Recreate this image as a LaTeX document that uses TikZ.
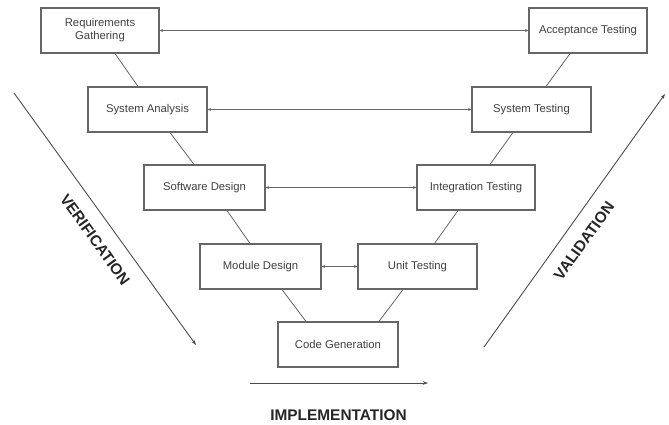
\documentclass[tikz,border=0pt]{standalone}
\usepackage{fontspec}
\setmainfont{Liberation Sans}
\usetikzlibrary{arrows.meta}
\begin{document}
\begin{tikzpicture}[x=1pt,y=-1pt,
  box/.style={draw=black!60,line width=1.1pt,minimum height=45pt,inner sep=0pt,
    text=black!75,align=center,font=\fontsize{11.3}{13}\selectfont},
  link/.style={draw=black!60,line width=0.8pt},
  both/.style={draw=black!60,line width=0.8pt,{Stealth[length=3.5pt,width=3pt]}-{Stealth[length=3.5pt,width=3pt]}},
  phase/.style={draw=black!70,line width=0.9pt,-{Stealth[length=5pt,width=3.5pt]}},
  plabel/.style={text=black!85,font=\fontsize{15.4}{18}\selectfont\bfseries,inner sep=0pt}]
\useasboundingbox (0,0) rectangle (669,425);
\fill[white] (0,0) rectangle (669,425);
% boxes
\node[box,minimum width=118pt] (RG) at (100,30.5) {Requirements\\Gathering};
\node[box,minimum width=119pt] (SA) at (147.5,109.5) {System Analysis};
\node[box,minimum width=121pt] (SD) at (204.5,187.5) {Software Design};
\node[box,minimum width=121pt] (MD) at (260.5,266.5) {Module Design};
\node[box,minimum width=120pt] (CG) at (338,344.5) {Code Generation};
\node[box,minimum width=119pt] (UT) at (417.5,266.5) {Unit Testing};
\node[box,minimum width=118pt] (IT) at (476,187.5) {Integration Testing};
\node[box,minimum width=119pt] (ST) at (531.5,109.5) {System Testing};
\node[box,minimum width=118pt] (AT) at (588,30.5) {Acceptance Testing};
% V connectors
\draw[link] ([xshift=15pt]RG.south) -- ([xshift=-9.5pt]SA.north);
\draw[link] ([xshift=22.5pt]SA.south) -- ([xshift=-10.5pt]SD.north);
\draw[link] ([xshift=22.5pt]SD.south) -- ([xshift=-10.5pt]MD.north);
\draw[link] ([xshift=21.5pt]MD.south) -- ([xshift=-32pt]CG.north);
\draw[link] ([xshift=41pt]CG.north) -- ([xshift=-14.5pt]UT.south);
\draw[link] ([xshift=17pt]UT.north) -- ([xshift=-18pt]IT.south);
\draw[link] ([xshift=14pt]IT.north) -- ([xshift=-18.5pt]ST.south);
\draw[link] ([xshift=14.5pt]ST.north) -- ([xshift=-18pt]AT.south);
% horizontal links
\draw[both] (RG.east) -- (AT.west);
\draw[both] (SA.east) -- (ST.west);
\draw[both] (SD.east) -- (IT.west);
\draw[both] (MD.east) -- (UT.west);
% phase arrows
\coordinate (v1) at (14,93);
\coordinate (v2) at (196,345);
\draw[phase] (v1) -- (v2);
\node[plabel,rotate=-54.2] (VER) at (95,239.5) {VERIFICATION};
\coordinate (w1) at (484,347);
\coordinate (w2) at (665,94);
\draw[phase] (w1) -- (w2);
\node[plabel,rotate=54.3] (VAL) at (584,241) {VALIDATION};
\coordinate (i1) at (250,383);
\coordinate (i2) at (428,383);
\draw[phase] (i1) -- (i2);
\node[plabel] (IMP) at (338.5,415) {IMPLEMENTATION};
\end{tikzpicture}
\end{document}
